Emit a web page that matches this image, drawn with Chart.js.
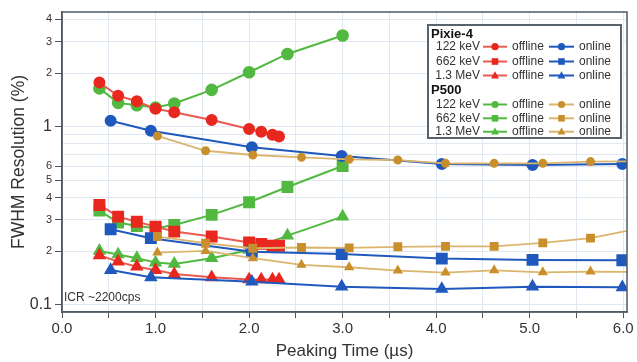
<!DOCTYPE html>
<html>
<head>
<meta charset="utf-8">
<script src="https://cdn.jsdelivr.net/npm/chart.js@4/dist/chart.umd.min.js"></script>
<style>
html,body{margin:0;padding:0;background:#fff;}
#wrap{width:637px;height:362px;}
</style>
</head>
<body>
<div id="wrap"><canvas id="c" width="637" height="362"></canvas></div>
<script>
// ---- data ----
const pixieOffX   = [0.4, 0.6, 0.8, 1.0, 1.2, 1.6, 2.0, 2.13, 2.25, 2.32];
const pixie122Off = [1.77, 1.49, 1.39, 1.26, 1.205, 1.09, 0.97, 0.937, 0.90, 0.88];
const pixie662Off = [0.364, 0.313, 0.293, 0.275, 0.258, 0.242, 0.224, 0.22, 0.215, 0.215];
const pixie13Off  = [0.19, 0.175, 0.164, 0.157, 0.149, 0.143, 0.139, 0.139, 0.139, 0.139];

const pixieOnX    = [0.52, 0.95, 2.03, 2.99, 4.06, 5.03, 5.99];
const pixie122On  = [1.08, 0.95, 0.767, 0.685, 0.618, 0.61, 0.618];
const pixie662On  = [0.266, 0.237, 0.199, 0.193, 0.182, 0.179, 0.178];
const pixie13On   = [0.157, 0.143, 0.135, 0.1267, 0.123, 0.1267, 0.1256];

const p500OffX    = [0.4, 0.6, 0.8, 1.0, 1.2, 1.6, 2.0, 2.41, 3.0];
const p500122Off  = [1.64, 1.36, 1.32, 1.28, 1.35, 1.61, 2.02, 2.56, 3.25];
const p500662Off  = [0.338, 0.29, 0.277, 0.269, 0.281, 0.32, 0.377, 0.459, 0.602];
const p50013Off   = [0.201, 0.192, 0.183, 0.173, 0.17, 0.183, 0.2035, 0.245, 0.313];

const p500OnX     = [1.02, 1.535, 2.04, 2.56, 3.07, 3.59, 4.1, 4.62, 5.14, 5.65, 6.16];
const p500122On   = [0.887, 0.733, 0.694, 0.673, 0.656, 0.65, 0.623, 0.623, 0.623, 0.637, 0.64];
const p500662On   = [0.242, 0.222, 0.208, 0.21, 0.209, 0.212, 0.213, 0.213, 0.223, 0.237, 0.268];
const p50013On    = [0.1966, 0.201, 0.183, 0.168, 0.1627, 0.156, 0.152, 0.1565, 0.1525, 0.154, 0.153];

const xTicks = [0, 0.5, 1, 1.5, 2, 2.5, 3, 3.5, 4, 4.5, 5, 5.5, 6];
const yTicks = [0.1, 0.2, 0.3, 0.4, 0.5, 0.6, 0.7, 0.8, 0.9, 1, 2, 3, 4];
const yLabels = {0.1:'0.1', 0.2:'2', 0.3:'3', 0.4:'4', 0.5:'5', 0.6:'6', 1:'1', 2:'2', 3:'3', 4:'4'};

const energies = ['122 keV', '662 keV', '1.3 MeV'];
const RED = '#e8281f', BLUE = '#2059bd', GREEN = '#52b940', TAN = '#c98f2c', TANLINE = '#dbb56e';
const FONT = '"Liberation Sans", Arial, sans-serif';

function pts(xs, ys){ return xs.map((x,i)=>({x:x, y:ys[i]})); }
function ds(label, xs, ys, color, line, style, r, bw){
  return {label, data: pts(xs, ys), borderColor: line, backgroundColor: color,
    pointBackgroundColor: color, pointBorderColor: color, pointStyle: style,
    pointRadius: r, pointHoverRadius: r, borderWidth: bw, showLine: true, tension: 0};
}

const datasets = [
  ds('P500 122 online', p500OnX, p500122On, TAN, TANLINE, 'circle', 3.6, 1.8),
  ds('P500 662 online', p500OnX, p500662On, TAN, TANLINE, 'rect', 5, 1.8),
  ds('P500 1.3 online', p500OnX, p50013On, TAN, TANLINE, 'triangle', 4.2, 1.8),
  ds('Pixie 122 online', pixieOnX, pixie122On, BLUE, BLUE, 'circle', 5, 2),
  ds('Pixie 662 online', pixieOnX, pixie662On, BLUE, BLUE, 'rect', 7, 2),
  ds('Pixie 1.3 online', pixieOnX, pixie13On, BLUE, BLUE, 'triangle', 5.8, 2),
  ds('Pixie 122 offline', pixieOffX, pixie122Off, RED, '#ea5a50', 'circle', 5, 2),
  ds('Pixie 662 offline', pixieOffX, pixie662Off, RED, '#ea5a50', 'rect', 7, 2),
  ds('Pixie 1.3 offline', pixieOffX, pixie13Off, RED, '#ea5a50', 'triangle', 5.8, 2),
  ds('P500 122 offline', p500OffX, p500122Off, GREEN, GREEN, 'circle', 5.3, 2),
  ds('P500 662 offline', p500OffX, p500662Off, GREEN, GREEN, 'rect', 7, 2),
  ds('P500 1.3 offline', p500OffX, p50013Off, GREEN, GREEN, 'triangle', 5.8, 2)
];

function marker(ctx, style, x, y, r, color){
  ctx.fillStyle = color;
  ctx.beginPath();
  if (style === 'circle') { ctx.arc(x, y, r, 0, Math.PI*2); }
  else if (style === 'rect') { ctx.rect(x-r, y-r, 2*r, 2*r); }
  else { ctx.moveTo(x, y-r*1.2); ctx.lineTo(x+r*1.1, y+r*0.8); ctx.lineTo(x-r*1.1, y+r*0.8); ctx.closePath(); }
  ctx.fill();
}

const decor = {
  id: 'decor',
  afterDraw(chart){
    const ctx = chart.ctx, a = chart.chartArea;
    ctx.save();
    // frame
    ctx.strokeStyle = '#4f5b66';
    ctx.lineWidth = 1.5;
    ctx.strokeRect(a.left, a.top, a.right - a.left, a.bottom - a.top);
    // ICR text
    ctx.fillStyle = '#333';
    ctx.font = '12px ' + FONT;
    ctx.textBaseline = 'middle';
    ctx.textAlign = 'left';
    ctx.fillText('ICR ~2200cps', 64, 298);
    // legend box
    const bx = 428, by = 25, bw = 193, bh = 113;
    ctx.fillStyle = '#fff';
    ctx.fillRect(bx, by, bw, bh);
    ctx.strokeStyle = '#59636b';
    ctx.lineWidth = 2;
    ctx.strokeRect(bx, by, bw, bh);
    const groups = [
      {title: 'Pixie-4', ty: 34, rows: [46.7, 61.5, 75.5], off: RED, offLine: '#ea5a50', on: BLUE, onLine: BLUE},
      {title: 'P500', ty: 90, rows: [104.5, 118.3, 131.7], off: GREEN, offLine: GREEN, on: TAN, onLine: TANLINE}
    ];
    const styles = ['circle', 'rect', 'triangle'];
    groups.forEach((g) => {
      ctx.fillStyle = '#111';
      ctx.font = 'bold 13px ' + FONT;
      ctx.textAlign = 'left';
      ctx.fillText(g.title, 431, g.ty);
      g.rows.forEach((ry, i) => {
        ctx.font = '12px ' + FONT;
        ctx.fillStyle = '#333';
        ctx.textAlign = 'right';
        ctx.fillText(energies[i], 480, ry);
        ctx.textAlign = 'left';
        ctx.fillText('offline', 512, ry);
        ctx.fillText('online', 579, ry);
        ctx.lineWidth = 2;
        ctx.strokeStyle = g.offLine;
        ctx.beginPath(); ctx.moveTo(483, ry); ctx.lineTo(507, ry); ctx.stroke();
        ctx.strokeStyle = g.onLine;
        ctx.beginPath(); ctx.moveTo(549, ry); ctx.lineTo(574, ry); ctx.stroke();
        const rr = styles[i] === 'rect' ? 3.3 : 3.6;
        marker(ctx, styles[i], 495, ry, rr, g.off);
        marker(ctx, styles[i], 561.5, ry, rr, g.on);
      });
    });
    // the header band of P500 hides the lower edge of the third Pixie row
    ctx.fillStyle = '#fff';
    ctx.fillRect(bx + 1, 79.5, bw - 2, 3.5);
    ctx.restore();
  }
};

new Chart(document.getElementById('c'), {
  type: 'line',
  data: { datasets },
  options: {
    responsive: false,
    animation: false,
    devicePixelRatio: 1,
    layout: { padding: { top: 12, right: 10, left: 0, bottom: 0 } },
    plugins: { legend: { display: false }, tooltip: { enabled: false } },
    scales: {
      x: {
        type: 'linear', min: 0, max: 6.04,
        afterBuildTicks(s){ s.ticks = xTicks.map(v => ({value: v})); },
        afterFit(s){ s.height = 50; },
        ticks: {
          autoSkip: false, maxRotation: 0, padding: 2,
          color: '#333',
          font: { family: FONT, size: 15 },
          callback: v => (Math.abs(v - Math.round(v)) < 1e-9 ? v.toFixed(1) : '')
        },
        grid: { color: '#e2e8f1', lineWidth: 1, tickColor: '#555', tickLength: 6 },
        border: { display: true, color: '#4f5b66', width: 1.5 },
        title: {
          display: true, text: 'Peaking Time (\u00b5s)', color: '#333',
          font: { family: FONT, size: 17 },
          padding: { top: 0, bottom: 0 }
        }
      },
      y: {
        type: 'logarithmic', min: 0.0913, max: 4.4,
        afterBuildTicks(s){ s.ticks = yTicks.map(v => ({value: v})); },
        afterFit(s){ s.width = 62; },
        ticks: {
          autoSkip: false, padding: 3, color: '#333',
          font: c => ({ family: FONT,
                        size: (c.tick && (c.tick.value === 1 || c.tick.value === 0.1)) ? 16 : 11 }),
          callback: v => (yLabels[v] !== undefined ? yLabels[v] : '')
        },
        grid: {
          color: '#e2e8f1', lineWidth: 1, tickLength: 7,
          tickColor: c => (c.tick && yLabels[c.tick.value] !== undefined ? '#555' : 'rgba(0,0,0,0)')
        },
        border: { display: true, color: '#4f5b66', width: 1.5 },
        title: {
          display: true, text: 'FWHM Resolution (%)', color: '#333',
          font: { family: FONT, size: 17.5 },
          padding: { top: 9, bottom: 0 }
        }
      }
    }
  },
  plugins: [decor]
});
</script>
</body>
</html>
